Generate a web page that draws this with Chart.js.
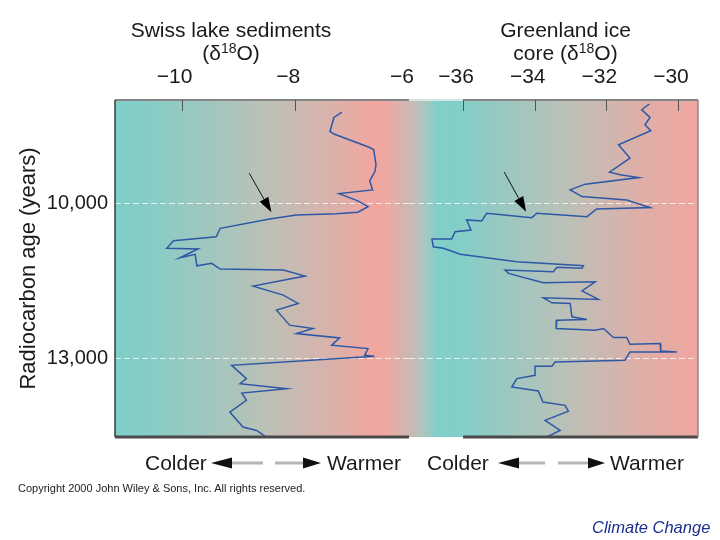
<!DOCTYPE html>
<html>
<head>
<meta charset="utf-8">
<script src="https://cdn.jsdelivr.net/npm/chart.js@4.4.1/dist/chart.umd.min.js"></script>
<style>
  body { margin: 0; background: #fff; width: 720px; height: 540px; overflow: hidden; position: relative;
         font-family: "Liberation Sans", Arial, sans-serif; color: #1a1a1a; }
  canvas { position: absolute; top: 0; }
  #swiss { left: 0; }
  #green { left: 409px; }
  .txt { position: absolute; font-size: 21px; line-height: 21px; white-space: nowrap; }
  .ctr { text-align: center; }
  sup { font-size: 14px; line-height: 0; vertical-align: 7px; }
  #copy { position: absolute; left: 18px; top: 482px; font: 11px "Liberation Sans Narrow", "Liberation Sans", Arial, sans-serif; color: #222; white-space: nowrap; }
  #cc { position: absolute; left: 592px; top: 518px; font: italic 16.5px "Liberation Sans", Arial, sans-serif; color: #1c2e8e; white-space: nowrap; }
  #arrows { position: absolute; left: 0; top: 455px; }
</style>
</head>
<body>
<canvas id="swiss" width="440" height="540"></canvas>
<canvas id="green" width="311" height="540"></canvas>

<div class="txt ctr" style="left:0;width:462px;top:19px">Swiss lake sediments</div>
<div class="txt ctr" style="left:0;width:462px;top:42px">(δ<sup>18</sup>O)</div>
<div class="txt ctr" style="left:465px;width:201px;top:19px">Greenland ice</div>
<div class="txt ctr" style="left:465px;width:201px;top:42px">core (δ<sup>18</sup>O)</div>

<div class="txt" style="left:145px;top:452px">Colder</div>
<div class="txt" style="left:327px;top:452px">Warmer</div>
<div class="txt" style="left:427px;top:452px">Colder</div>
<div class="txt" style="left:610px;top:452px">Warmer</div>
<svg id="arrows" width="720" height="16">
  <rect x="232" y="6.5" width="31" height="3" fill="#b5b5b5"/>
  <rect x="275" y="6.5" width="28" height="3" fill="#b5b5b5"/>
  <polygon points="211,8 232,2.5 232,13.5" fill="#111"/>
  <polygon points="321,8 303,2.5 303,13.5" fill="#111"/>
  <rect x="519" y="6.5" width="26" height="3" fill="#b5b5b5"/>
  <rect x="558" y="6.5" width="30" height="3" fill="#b5b5b5"/>
  <polygon points="498,8 519,2.5 519,13.5" fill="#111"/>
  <polygon points="605,8 588,2.5 588,13.5" fill="#111"/>
</svg>

<div id="copy">Copyright 2000 John Wiley &amp; Sons, Inc. All rights reserved.</div>
<div id="cc">Climate Change</div>

<script>
// Swiss lake sediments: δ18O (per mil) against radiocarbon age (years)
const swissAge = [8233, 8338, 8610, 8660, 8920, 8965, 9256, 9386, 9567, 9742,
  9814, 9955, 10066, 10175, 10202, 10227, 10305, 10486, 10649, 10726,
  10874, 10888, 11056, 10990, 11212, 11165, 11276, 11295, 11412, 11606,
  11781, 11942, 12072, 12363, 12428, 12525, 12610, 12752, 12816, 12946,
  12965, 13140, 13398, 13496, 13593, 13678, 13820, 14047, 14338, 14403, 14530];
const swissD18O = [-7.18, -7.32, -7.39, -7.32, -6.69, -6.62, -6.58, -6.60, -6.69, -6.64,
  -7.23, -6.90, -6.72, -6.90, -7.28, -7.98, -8.45, -9.32, -9.39, -10.14,
  -10.26, -9.71, -10.03, -9.76, -9.73, -9.47, -9.32, -8.21, -7.83, -8.74,
  -8.21, -7.95, -8.33, -8.10, -7.69, -7.98, -7.22, -7.36, -6.72, -6.78,
  -6.61, -9.12, -8.86, -8.97, -8.15, -8.94, -8.86, -9.15, -8.92, -8.68, -8.51];

// Greenland ice core: δ18O (per mil) against radiocarbon age (years)
const greenAge = [8077, 8188, 8338, 8479, 8596, 8868, 9126, 9398, 9450, 9503,
  9631, 9742, 9872, 9936, 10085, 10111, 10260, 10194, 10280, 10194,
  10344, 10324, 10519, 10552, 10693, 10693, 10843, 10874, 10990, 11134,
  11212, 11262, 11243, 11328, 11295, 11359, 11542, 11523, 11697, 11864,
  11833, 11930, 11942, 12202, 12253, 12266, 12428, 12461, 12428, 12602,
  12602, 12732, 12719, 12863, 12882, 12882, 13043, 13076, 13160, 13160,
  13334, 13399, 13562, 13639, 13853, 13917, 14028, 14208, 14403, 14530];
const greenD18O = [-30.80, -31.01, -30.78, -30.92, -30.76, -31.66, -31.34, -31.91, -31.61, -31.10,
  -32.59, -33.01, -32.68, -31.43, -30.78, -32.27, -32.54, -33.94, -34.08, -35.34,
  -35.48, -35.90, -35.78, -36.22, -36.32, -36.87, -36.83, -36.55, -36.08, -34.50,
  -32.64, -32.68, -33.38, -33.48, -34.83, -34.73, -33.76, -32.31, -32.68, -32.22,
  -33.76, -33.52, -33.01, -32.96, -32.54, -33.38, -33.40, -32.31, -32.08, -31.80,
  -31.43, -31.34, -30.50, -30.48, -30.03, -31.34, -31.48, -33.43, -33.52, -33.99,
  -33.99, -34.50, -34.64, -33.90, -33.77, -33.15, -33.06, -33.71, -33.29, -33.66];

const swissTicks = [-10, -8, -6];
const greenTicks = [-36, -34, -32, -30];
const ageTicks = [10000, 13000];

// arrows marking the end of the cold spell (tail -> head, data units)
const swissArrow = [{ x1: -8.81, y1: 9417, x2: -8.42, y2: 10175 }];
const greenArrow = [{ x1: -34.85, y1: 9398, x2: -34.24, y2: 10163 }];

Chart.defaults.font.family = '"Liberation Sans", Arial, sans-serif';
Chart.defaults.color = '#1a1a1a';

const toPoints = (xs, ys) => xs.map((v, i) => ({ x: v, y: ys[i] }));
const minus = v => (v < 0 ? '\u2212' : '') + Math.abs(v);

function line(ctx, x1, y1, x2, y2) {
  ctx.beginPath(); ctx.moveTo(x1, y1); ctx.lineTo(x2, y2); ctx.stroke();
}

const background = {
  id: 'background',
  beforeDraw(chart, args, opts) {
    const { ctx, chartArea: a } = chart;
    const g = ctx.createLinearGradient(a.left, 0, a.right, 0);
    opts.stops.forEach(([p, c]) => g.addColorStop(p, c));
    ctx.save();
    ctx.fillStyle = g;
    ctx.fillRect(a.left, a.top, a.right - a.left, a.bottom - a.top);
    ctx.restore();
  }
};

const frame = {
  id: 'frame',
  afterDraw(chart, args, opts) {
    const { ctx, chartArea: a, scales: { x, y } } = chart;
    const from = opts.from != null ? x.getPixelForValue(opts.from) : a.left;
    ctx.save();
    if (from > a.left) {
      ctx.strokeStyle = '#d4e6e2'; ctx.lineWidth = 2;
      line(ctx, a.left, a.top, from, a.top);
    }
    ctx.strokeStyle = '#858585'; ctx.lineWidth = 2;
    line(ctx, from, a.top, a.right, a.top);
    ctx.strokeStyle = '#4a4a4a'; ctx.lineWidth = 3;
    line(ctx, from, a.bottom, a.right, a.bottom);
    if (opts.left) {
      ctx.strokeStyle = '#3a3a3a'; ctx.lineWidth = 1.5;
      line(ctx, a.left, a.top, a.left, a.bottom);
    }
    if (opts.right) {
      ctx.strokeStyle = '#8a8a8a'; ctx.lineWidth = 1.5;
      line(ctx, a.right, a.top, a.right, a.bottom);
    }
    ctx.strokeStyle = '#555'; ctx.lineWidth = 1;
    x.ticks.forEach(t => {
      const px = Math.round(x.getPixelForValue(t.value)) + 0.5;
      line(ctx, px, a.top, px, a.top + 11);
    });
    // pointer arrows
    ctx.strokeStyle = '#111'; ctx.fillStyle = '#000'; ctx.lineWidth = 1;
    (opts.arrows || []).forEach(r => {
      const x1 = x.getPixelForValue(r.x1), y1 = y.getPixelForValue(r.y1);
      const x2 = x.getPixelForValue(r.x2), y2 = y.getPixelForValue(r.y2);
      const ang = Math.atan2(y2 - y1, x2 - x1), len = 15, hw = 5;
      const bx = x2 - len * Math.cos(ang), by = y2 - len * Math.sin(ang);
      line(ctx, x1, y1, bx, by);
      ctx.beginPath();
      ctx.moveTo(x2, y2);
      ctx.lineTo(bx + hw * Math.sin(ang), by - hw * Math.cos(ang));
      ctx.lineTo(bx - hw * Math.sin(ang), by + hw * Math.cos(ang));
      ctx.closePath(); ctx.fill();
    });
    ctx.restore();
  }
};

function panel(id, points, xMin, xMax, ticks, padRight, withAxis, frameOpts, stops) {
  return new Chart(document.getElementById(id), {
    type: 'scatter',
    data: {
      datasets: [{
        data: points,
        showLine: true,
        borderColor: '#2d58a6',
        borderWidth: 1.5,
        pointRadius: 0,
        tension: 0
      }]
    },
    options: {
      responsive: false,
      animation: false,
      layout: { padding: { left: 0, right: padRight, top: 0, bottom: 103 } },
      plugins: {
        legend: { display: false },
        tooltip: { enabled: false },
        background: { stops: stops },
        frame: frameOpts
      },
      scales: {
        x: {
          type: 'linear',
          position: 'top',
          min: xMin,
          max: xMax,
          afterBuildTicks: s => { s.ticks = ticks.map(v => ({ value: v })); },
          afterFit: s => { s.height = 100; },
          grid: { display: false },
          border: { display: false },
          ticks: {
            font: { size: 21 },
            color: '#1a1a1a',
            padding: 2,
            labelOffset: -7,
            maxRotation: 0,
            autoSkip: false,
            callback: minus
          }
        },
        y: {
          type: 'linear',
          min: 8000,
          max: 14530,
          reverse: true,
          afterBuildTicks: s => { s.ticks = ageTicks.map(v => ({ value: v })); },
          afterFit: s => { s.width = withAxis ? 115 : 0; },
          grid: { color: 'rgba(255,255,255,0.75)', lineWidth: 1, drawTicks: false },
          border: { display: false, dash: [6, 3] },
          ticks: {
            display: withAxis,
            font: { size: 20 },
            color: '#1a1a1a',
            padding: 7,
            callback: v => v.toLocaleString('en-US')
          },
          title: {
            display: withAxis,
            text: 'Radiocarbon age (years)',
            font: { size: 22 },
            color: '#1a1a1a',
            padding: { top: 16, bottom: 0 }
          }
        }
      }
    },
    plugins: [background, frame]
  });
}

panel('swiss', toPoints(swissD18O, swissAge), -11.17, -6, swissTicks, 31, true,
  { left: true, arrows: swissArrow },
  [[0, '#7dcfc8'], [0.12, '#86cdc6'], [0.5, '#b9c1b7'], [0.75, '#dcb1aa'],
   [0.87, '#f1a6a0'], [0.93, '#eda9a2'], [1, '#c9b9b2']]);

panel('green', toPoints(greenD18O, greenAge), -37.51, -29.44, greenTicks, 22, false,
  { right: true, from: -36, arrows: greenArrow },
  [[0, '#d2b5ae'], [0.04, '#b4c4be'], [0.1, '#80d0c9'], [0.19, '#84cec7'],
   [0.55, '#bcc0b7'], [0.8, '#deafa8'], [1, '#f0a6a0']]);
</script>
</body>
</html>
